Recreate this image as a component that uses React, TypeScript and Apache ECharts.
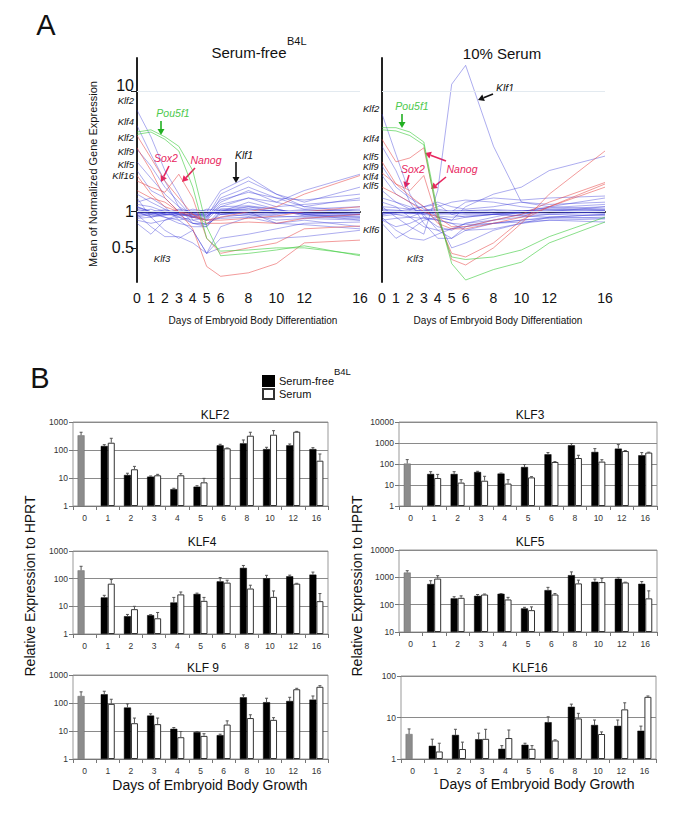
import React, { useEffect, useRef } from 'react';
import * as echarts from 'echarts';

const FONT = '"Liberation Sans", Arial, sans-serif';

// ---------- Panel A: line charts ----------
const DAYS = [0, 1, 2, 3, 4, 5, 6, 8, 10, 12, 16];
const LINE_Y_TICKS = [0.5, 1, 10];
const LINE_Y_MIN = 0.26;
const LINE_Y_MAX = 19;

const serumFreeBlue: number[][] = [
  [7.0, 4.2, 2.2, 1.4, 0.85, 0.78, 1.05, 1.1, 1.0, 0.98, 0.95],
  [5.2, 3.0, 1.8, 1.1, 0.8, 0.75, 1.0, 1.2, 1.05, 0.95, 0.9],
  [3.3, 2.4, 1.6, 1.2, 0.9, 0.85, 1.3, 1.6, 1.3, 1.1, 1.3],
  [2.6, 1.9, 1.4, 1.1, 0.95, 0.9, 1.4, 1.8, 1.4, 1.2, 1.6],
  [2.2, 1.5, 1.3, 1.0, 0.9, 0.9, 1.2, 1.5, 1.2, 1.05, 1.1],
  [1.0, 0.95, 0.9, 0.85, 0.9, 1.0, 1.5, 1.95, 1.4, 1.1, 1.0],
  [0.95, 0.75, 0.62, 0.62, 0.55, 0.45, 0.5, 0.55, 0.6, 0.62, 0.7],
  [1.3, 0.9, 0.7, 0.6, 0.7, 0.45, 0.75, 0.9, 0.8, 0.85, 0.75],
  [1.1, 1.0, 0.95, 0.92, 0.95, 0.95, 1.0, 1.05, 1.0, 0.98, 1.0],
  [0.95, 1.0, 1.02, 1.0, 0.97, 0.98, 0.96, 0.98, 1.0, 0.97, 0.95],
  [1.05, 0.98, 0.97, 1.05, 1.0, 0.92, 1.05, 1.02, 0.96, 1.0, 1.05],
  [0.9, 0.95, 1.0, 0.98, 1.02, 1.0, 0.98, 0.95, 0.98, 1.02, 0.98],
  [1.0, 1.05, 0.95, 0.96, 0.93, 0.97, 1.02, 1.0, 1.03, 0.95, 0.92],
  [0.97, 0.92, 0.98, 1.03, 0.98, 1.03, 0.95, 0.92, 0.95, 1.0, 1.02],
  [1.08, 1.0, 1.04, 0.94, 0.96, 0.92, 1.1, 1.12, 1.05, 0.92, 0.9],
  [0.92, 0.97, 0.93, 0.98, 1.05, 1.0, 1.0, 0.97, 0.92, 0.9, 0.88],
  [1.15, 1.1, 1.0, 0.9, 0.85, 0.88, 1.15, 1.3, 1.1, 1.15, 1.25],
  [0.85, 0.8, 0.85, 0.9, 0.8, 0.8, 0.9, 0.95, 0.85, 0.88, 0.85],
  [1.2, 1.3, 1.1, 0.85, 0.7, 0.45, 0.6, 0.65, 0.72, 0.8, 0.82],
  [1.0, 0.9, 0.95, 0.98, 0.9, 0.85, 1.1, 1.3, 1.2, 1.5, 2.05],
  [0.8, 0.65, 0.85, 0.95, 0.8, 0.78, 0.95, 1.0, 0.8, 0.78, 0.72],
  [1.4, 1.2, 1.05, 0.95, 0.9, 0.95, 1.25, 1.45, 1.3, 1.25, 1.4],
  [0.98, 1.0, 0.97, 1.0, 1.0, 1.0, 0.95, 1.0, 0.98, 0.96, 0.97],
  [1.02, 0.96, 1.0, 0.97, 0.95, 1.05, 1.02, 1.06, 1.0, 1.04, 1.0],
  [0.88, 0.9, 0.95, 0.95, 0.92, 0.85, 0.88, 0.9, 0.9, 0.92, 0.95],
  [1.1, 1.0, 0.9, 0.8, 0.75, 0.75, 1.0, 1.1, 1.05, 0.95, 0.85],
];
const serumFreeRed: number[][] = [
  [4.3, 2.8, 1.8, 1.3, 0.95, 0.8, 0.8, 0.82, 0.8, 0.88, 0.95],
  [3.4, 2.2, 1.3, 1.0, 0.72, 0.35, 0.29, 0.31, 0.37, 0.55, 0.58],
  [1.8, 1.6, 1.45, 2.05, 1.3, 0.6, 0.45, 0.5, 0.55, 0.72, 0.76],
  [1.5, 1.3, 1.2, 1.0, 0.9, 0.85, 0.9, 1.0, 1.1, 1.4, 2.0],
  [2.0, 1.4, 1.1, 1.0, 0.95, 0.85, 0.85, 0.88, 0.92, 1.0, 1.1],
];
const serumFreeGreen: number[][] = [
  [4.6, 4.8, 4.2, 3.5, 2.2, 0.75, 0.43, 0.45, 0.48, 0.52, 0.43],
  [4.4, 4.6, 4.0, 3.2, 1.6, 0.6, 0.47, 0.48, 0.5, 0.5, 0.44],
];
const serumBlue: number[][] = [
  [1.1, 0.9, 0.75, 0.65, 1.5, 11.5, 16.5, 3.5, 1.2, 1.1, 1.05],
  [6.5, 3.0, 1.4, 0.9, 0.75, 0.7, 0.8, 0.85, 0.9, 0.95, 1.0],
  [3.5, 2.2, 1.2, 0.8, 0.6, 0.6, 0.75, 0.85, 0.95, 1.0, 1.1],
  [2.4, 1.6, 1.3, 1.1, 0.9, 0.85, 1.1, 1.4, 1.6, 2.2, 2.9],
  [2.0, 1.4, 1.2, 1.05, 1.0, 1.0, 1.2, 1.3, 1.25, 1.3, 1.35],
  [0.9, 0.7, 0.6, 0.58, 0.65, 0.72, 0.75, 0.8, 0.85, 0.9, 0.95],
  [0.8, 0.6, 0.7, 0.85, 0.9, 0.85, 0.9, 0.95, 0.92, 0.9, 0.88],
  [1.3, 1.2, 1.1, 0.95, 0.7, 0.6, 0.7, 0.8, 0.85, 0.88, 0.9],
  [1.0, 1.02, 0.98, 1.0, 1.02, 0.98, 0.97, 1.0, 1.02, 1.0, 0.98],
  [0.98, 0.97, 1.0, 1.03, 0.97, 0.95, 1.0, 1.03, 0.98, 0.97, 1.02],
  [1.03, 1.0, 0.96, 0.98, 1.0, 1.02, 1.03, 0.98, 0.96, 1.02, 1.05],
  [0.95, 0.98, 1.02, 0.97, 0.95, 0.97, 0.95, 0.96, 1.0, 1.05, 1.1],
  [1.05, 1.03, 1.0, 1.02, 1.05, 1.0, 0.98, 0.95, 0.93, 0.95, 0.93],
  [0.92, 0.95, 0.97, 0.95, 0.92, 0.9, 0.92, 0.95, 0.97, 1.0, 1.0],
  [1.1, 1.08, 1.05, 1.1, 1.2, 1.1, 1.05, 1.1, 1.2, 1.15, 1.2],
  [0.85, 0.88, 0.9, 0.88, 0.85, 0.8, 0.78, 0.8, 0.82, 0.85, 0.87],
  [1.2, 1.1, 0.9, 0.75, 0.7, 0.72, 0.8, 0.9, 1.0, 1.1, 1.3],
  [0.85, 0.75, 0.8, 0.9, 0.85, 0.8, 0.7, 0.72, 0.8, 0.85, 0.82],
  [1.0, 0.95, 0.9, 1.0, 1.1, 1.2, 1.25, 1.2, 1.1, 1.05, 1.02],
  [0.95, 1.0, 1.05, 1.1, 1.15, 0.95, 0.9, 0.95, 1.0, 1.08, 1.15],
  [1.5, 1.2, 1.05, 1.0, 0.85, 0.5, 0.55, 0.7, 0.8, 0.9, 0.95],
  [1.0, 1.0, 0.98, 0.96, 0.98, 1.0, 1.02, 1.04, 1.02, 1.0, 0.97],
  [0.97, 0.99, 1.01, 0.99, 1.01, 0.99, 0.98, 0.99, 1.01, 1.03, 1.03],
];
const serumRed: number[][] = [
  [4.0, 2.6, 2.8, 3.4, 0.95, 0.4, 0.36, 0.5, 0.8, 1.4, 3.2],
  [2.1, 1.7, 1.5, 2.0, 0.85, 0.45, 0.42, 0.55, 0.85, 1.1, 1.7],
  [2.6, 1.7, 1.35, 1.1, 0.8, 0.72, 0.72, 0.8, 0.9, 1.1, 1.6],
  [1.6, 1.4, 1.2, 1.0, 0.9, 0.75, 0.75, 0.85, 0.95, 1.2, 1.75],
];
const serumGreen: number[][] = [
  [5.0, 5.0, 4.6, 3.8, 1.0, 0.37, 0.27, 0.33, 0.38, 0.55, 0.82],
  [4.8, 4.7, 4.3, 3.6, 0.9, 0.42, 0.4, 0.42, 0.48, 0.62, 0.9],
];

// ---------- Panel B: bar charts ----------
const BAR_DAYS = ['0', '1', '2', '3', '4', '5', '6', '8', '10', '12', '16'];

const klf2Free = [335, 139, 12.8, 11.2, 4, 4.9, 147, 173, 108, 147, 108];
const klf2FreeUpper = [430, 155, 14.8, 11.8, 4.3, 5.3, 160, 228, 125, 164, 121];
const klf2Serum = [null, 182, 20.5, 12.5, 12.5, 7, 115, 324, 352, 450, 41.5];
const klf2SerumUpper = [null, 262, 26, 13.5, 14.3, 9.7, 118, 430, 490, 461, 72];

const klf3Free = [105, 33.5, 33.5, 41.5, 35, 72, 290, 780, 375, 540, 260];
const klf3FreeUpper = [162, 43, 43, 45, 37, 94, 350, 940, 540, 840, 350];
const klf3Serum = [null, 21.5, 13, 16, 11.7, 23, 125, 193, 130, 415, 350];
const klf3SerumUpper = [null, 32, 18, 26, 18, 25, 130, 260, 160, 440, 365];

const klf4Free = [200, 21, 4.4, 4.8, 13.8, 28, 80, 245, 103, 122, 140];
const klf4FreeUpper = [280, 25, 5.1, 5.0, 21, 30, 110, 300, 132, 134, 173];
const klf4Serum = [null, 66, 7.9, 3.7, 27, 15.8, 72, 44, 22, 66, 15.4];
const klf4SerumUpper = [null, 93, 10, 6, 33, 21, 88, 58, 36, 68, 29];

const klf5Free = [1500, 570, 170, 210, 250, 73, 340, 1200, 690, 890, 580];
const klf5FreeUpper = [1750, 750, 195, 235, 255, 80, 430, 1580, 862, 990, 700];
const klf5Serum = [null, 900, 178, 235, 155, 63, 235, 600, 670, 650, 170];
const klf5SerumUpper = [null, 1150, 210, 245, 185, 83, 255, 790, 910, 665, 320];

const klf9Free = [178, 205, 69, 35.6, 12, 9.1, 7.1, 160, 107, 118, 132];
const klf9FreeUpper = [250, 263, 93, 41, 13.3, 9.6, 7.7, 195, 148, 160, 178];
const klf9Serum = [null, 93, 19, 17.6, 6, 6.7, 17, 29, 25, 310, 380];
const klf9SerumUpper = [null, 136, 29, 29, 9.6, 8, 23, 38, 30, 335, 415];

const klf16Free = [4, 2.08, 3.8, 3.0, 1.76, 2.2, 7.7, 18.1, 6.6, 6.3, 4.8];
const klf16FreeUpper = [5.3, 3.0, 5.2, 4.2, 2.1, 2.4, 10.4, 21, 8.7, 8.7, 6.2];
const klf16Serum = [null, 1.52, 1.74, 3.06, 3.2, 1.76, 2.8, 9.5, 4, 15.7, 31.5];
const klf16SerumUpper = [null, 2.4, 2.55, 5.2, 5.0, 2.1, 2.9, 12.6, 4.5, 22.6, 33];

const PANELS = [
  { title: 'KLF2', free: klf2Free, freeUp: klf2FreeUpper, serum: klf2Serum, serumUp: klf2SerumUpper, min: 1, max: 1000 },
  { title: 'KLF3', free: klf3Free, freeUp: klf3FreeUpper, serum: klf3Serum, serumUp: klf3SerumUpper, min: 1, max: 10000 },
  { title: 'KLF4', free: klf4Free, freeUp: klf4FreeUpper, serum: klf4Serum, serumUp: klf4SerumUpper, min: 1, max: 1000 },
  { title: 'KLF5', free: klf5Free, freeUp: klf5FreeUpper, serum: klf5Serum, serumUp: klf5SerumUpper, min: 10, max: 10000 },
  { title: 'KLF 9', free: klf9Free, freeUp: klf9FreeUpper, serum: klf9Serum, serumUp: klf9SerumUpper, min: 1, max: 1000 },
  { title: 'KLF16', free: klf16Free, freeUp: klf16FreeUpper, serum: klf16Serum, serumUp: klf16SerumUpper, min: 1, max: 100 },
];

const PANEL_LAYOUT = [
  { left: 73, top: 422, width: 255, height: 84, tx: 215, ty: 415 },
  { left: 399, top: 422, width: 258, height: 84, tx: 530, ty: 415 },
  { left: 73, top: 551, width: 255, height: 83, tx: 202, ty: 542 },
  { left: 399, top: 550, width: 258, height: 82, tx: 530, ty: 542 },
  { left: 73, top: 675, width: 255, height: 84, tx: 203, ty: 668 },
  { left: 401, top: 676, width: 255, height: 83, tx: 530, ty: 668 },
];

const L = (v: number) => Math.log10(v);

function arrow(x1: number, y1: number, x2: number, y2: number, color: string) {
  const ang = Math.atan2(y2 - y1, x2 - x1);
  const hl = 6;
  const hw = 3.5;
  const bx = x2 - hl * Math.cos(ang);
  const by = y2 - hl * Math.sin(ang);
  const px = -Math.sin(ang) * hw;
  const py = Math.cos(ang) * hw;
  return [
    { type: 'line', shape: { x1, y1, x2: bx, y2: by }, style: { stroke: color, lineWidth: 1.6 } },
    { type: 'polygon', shape: { points: [[x2, y2], [bx + px, by + py], [bx - px, by - py]] }, style: { fill: color } },
  ];
}

function txt(text: string, x: number, y: number, size: number, opts: any = {}) {
  return {
    type: 'text',
    x,
    y,
    rotation: opts.rotation || 0,
    style: {
      text,
      fill: opts.color || '#111',
      textAlign: opts.align || 'center',
      textVerticalAlign: 'middle',
      fontSize: size,
      fontFamily: FONT,
      fontStyle: opts.italic ? 'italic' : 'normal',
    },
  };
}

const errRender = (offset: number) => (params: any, api: any) => {
  const c = api.value(0);
  const top = api.coord([c, api.value(1)]);
  const up = api.coord([c, api.value(2)]);
  const x = top[0] + offset;
  return {
    type: 'group',
    children: [
      { type: 'line', shape: { x1: x, y1: top[1], x2: x, y2: up[1] }, style: { stroke: '#555', lineWidth: 1 } },
      { type: 'line', shape: { x1: x - 1.5, y1: up[1], x2: x + 1.5, y2: up[1] }, style: { stroke: '#555', lineWidth: 1 } },
    ],
  };
};

function buildOption() {
  const grid: any[] = [
    { left: 137, top: 58, width: 223, height: 224, show: false },
    { left: 382, top: 58, width: 223, height: 224, show: false },
  ];
  const xAxis: any[] = [];
  const yAxis: any[] = [];
  const series: any[] = [];

  [0, 1].forEach((gi) => {
    xAxis.push({
      gridIndex: gi,
      type: 'value',
      min: 0,
      max: 16,
      axisLine: { show: true, lineStyle: { color: '#222', width: 2 } },
      axisTick: { show: false },
      splitLine: { show: false },
      axisLabel: { customValues: DAYS, fontSize: 14, color: '#111', margin: 9, fontFamily: FONT },
    });
    yAxis.push({
      gridIndex: gi,
      type: 'value',
      min: L(LINE_Y_MIN),
      max: L(LINE_Y_MAX),
      axisLine: { show: true, lineStyle: { color: '#222', width: 2 } },
      axisTick: gi === 0 ? { show: true, customValues: LINE_Y_TICKS.map(L), length: 6, lineStyle: { color: '#222' } } : { show: false },
      axisLabel: gi === 0
        ? {
            show: true,
            customValues: LINE_Y_TICKS.map(L),
            fontSize: 16,
            color: '#111',
            margin: 3,
            fontFamily: FONT,
            formatter: (v: number) => {
              const r = Math.pow(10, v);
              if (r >= 5) return '{up|' + String(Math.round(r)) + '}';
              return r >= 1 ? String(Math.round(r)) : r.toFixed(1);
            },
            rich: { up: { fontSize: 16, color: '#111', fontFamily: FONT, padding: [0, 0, 12, 0] } },
          }
        : { show: false },
      splitLine: { show: false },
    });
  });

  const addLines = (gi: number, sets: number[][], color: string, opacity: number, tag: string) => {
    sets.forEach((vals, k) => {
      const s: any = {
        name: `${tag}${gi}-${k}`,
        type: 'line',
        xAxisIndex: gi,
        yAxisIndex: gi,
        data: DAYS.map((d, j) => [d, L(vals[j])]),
        symbol: 'none',
        silent: true,
        lineStyle: { color, width: 1, opacity },
      };
      if (k === 0 && tag === 'b') {
        s.markLine = {
          silent: true,
          symbol: 'none',
          label: { show: false },
          lineStyle: { color: '#e3eaf0', type: 'solid', width: 1 },
          data: [{ yAxis: L(1) }, { yAxis: L(10) }],
        };
      }
      series.push(s);
    });
  };
  addLines(0, serumFreeBlue, '#3c3cd8', 0.42, 'b');
  addLines(0, serumFreeRed, '#e84848', 0.55, 'r');
  addLines(0, serumFreeGreen, '#3ccc3c', 0.6, 'g');
  addLines(1, serumBlue, '#3c3cd8', 0.42, 'b');
  addLines(1, serumRed, '#e84848', 0.55, 'r');
  addLines(1, serumGreen, '#3ccc3c', 0.6, 'g');

  PANELS.forEach((p, i) => {
    const gi = i + 2;
    const lay = PANEL_LAYOUT[i];
    grid.push({ left: lay.left, top: lay.top, width: lay.width, height: lay.height, show: true, borderColor: '#999', borderWidth: 1 });
    xAxis.push({
      gridIndex: gi,
      type: 'category',
      data: BAR_DAYS,
      axisLine: { show: true, lineStyle: { color: '#777' } },
      axisTick: { show: true, length: 4, lineStyle: { color: '#777' } },
      axisLabel: { fontSize: 8.5, color: '#333', margin: 7, fontFamily: FONT },
    });
    yAxis.push({
      gridIndex: gi,
      type: 'log',
      logBase: 10,
      min: p.min,
      max: p.max,
      startValue: p.min,
      axisLine: { show: false },
      axisTick: { show: true, length: 4, lineStyle: { color: '#777' } },
      axisLabel: { fontSize: 8.5, color: '#333', margin: 5, fontFamily: FONT, formatter: (v: number) => String(Math.round(v)) },
      splitLine: { show: true, lineStyle: { color: '#8a8a8a', width: 1 } },
    });
    series.push({
      name: 'Serum-free',
      type: 'bar',
      xAxisIndex: gi,
      yAxisIndex: gi,
      barWidth: 7,
      barGap: '0%',
      clip: true,
      itemStyle: { color: '#000', borderColor: '#000', borderWidth: 0.5 },
      data: p.free.map((v, j) => (j === 0 ? { value: v, itemStyle: { color: '#8c8c8c', borderColor: '#6a6a6a' } } : v)),
    });
    series.push({
      name: 'Serum',
      type: 'bar',
      xAxisIndex: gi,
      yAxisIndex: gi,
      barWidth: 7,
      barGap: '0%',
      clip: true,
      itemStyle: { color: '#fff', borderColor: '#333', borderWidth: 1 },
      data: p.serum.map((v) => (v == null ? '-' : v)),
    });
    series.push({
      name: 'errFree' + i,
      type: 'custom',
      xAxisIndex: gi,
      yAxisIndex: gi,
      silent: true,
      encode: { x: 0, y: [1, 2] },
      renderItem: errRender(-3.5),
      data: p.free.map((v, j) => [j, v, p.freeUp[j]]),
      z: 3,
    });
    series.push({
      name: 'errSerum' + i,
      type: 'custom',
      xAxisIndex: gi,
      yAxisIndex: gi,
      silent: true,
      encode: { x: 0, y: [1, 2] },
      renderItem: errRender(3.5),
      data: p.serum.map((v, j) => [j, v, p.serumUp[j]]).filter((d) => d[1] != null),
      z: 3,
    });
  });

  const red = '#e8265e';
  const green = '#22b022';
  const geneSize = 9.5;
  const graphic: any[] = [
    txt('A', 46, 25, 29),
    txt('Serum-free', 249, 52, 15),
    txt('B4L', 287, 41, 11, { align: 'left' }),
    txt('10% Serum', 502, 53, 15),
    txt('Mean of Normalized Gene Expression', 93, 174, 11, { rotation: Math.PI / 2 }),
    txt('Days of Embryoid Body Differentiation', 253, 320, 10),
    txt('Days of Embryoid Body Differentiation', 498, 320, 10),
    // left gene labels
    txt('Klf2', 134, 100, geneSize, { align: 'right', italic: true }),
    txt('Klf4', 134, 121, geneSize, { align: 'right', italic: true }),
    txt('Klf2', 134, 137, geneSize, { align: 'right', italic: true }),
    txt('Klf9', 134, 151, geneSize, { align: 'right', italic: true }),
    txt('Klf5', 134, 164, geneSize, { align: 'right', italic: true }),
    txt('Klf16', 134, 175, geneSize, { align: 'right', italic: true }),
    txt('Klf3', 162, 258, geneSize, { italic: true }),
    // labels between the charts
    txt('Klf2', 363, 108, geneSize, { align: 'left', italic: true }),
    txt('Klf4', 363, 138, geneSize, { align: 'left', italic: true }),
    txt('Klf5', 363, 157, 9, { align: 'left', italic: true }),
    txt('Klf9', 363, 167, 9, { align: 'left', italic: true }),
    txt('Klf4', 363, 177, 9, { align: 'left', italic: true }),
    txt('Klf5', 363, 186, 9, { align: 'left', italic: true }),
    txt('Klf6', 363, 229, geneSize, { align: 'left', italic: true }),
    // left annotations
    txt('Pou5f1', 173, 113, 10.5, { italic: true, color: '#4cc94c' }),
    ...arrow(161, 121, 161, 135, green),
    txt('Sox2', 166, 158, 10.5, { italic: true, color: red }),
    ...arrow(169, 166, 161, 182, red),
    txt('Nanog', 206, 160, 10.5, { italic: true, color: red }),
    ...arrow(195, 168, 182, 182, red),
    txt('Klf1', 244, 155, 10.5, { italic: true }),
    ...arrow(236, 162, 236, 183, '#111'),
    // right annotations
    txt('Klf1', 505, 88, 10.5, { italic: true }),
    ...arrow(493, 94, 478, 100, '#111'),
    txt('Pou5f1', 412, 106, 10.5, { italic: true, color: '#4cc94c' }),
    ...arrow(402, 114, 402, 128, green),
    txt('Sox2', 413, 169, 10.5, { italic: true, color: red }),
    ...arrow(409, 175, 405, 188, red),
    txt('Nanog', 462, 169, 10.5, { italic: true, color: red }),
    ...arrow(446, 161, 425, 153, red),
    ...arrow(446, 177, 431, 189, red),
    txt('Klf3', 415, 258, geneSize, { italic: true }),
    // panel B
    txt('B', 40, 378, 29),
    txt('B4L', 334, 371, 9.5, { align: 'left' }),
    txt('Relative Expression to HPRT', 30, 586, 14, { rotation: Math.PI / 2 }),
    txt('Relative Expression to HPRT', 357, 586, 14, { rotation: Math.PI / 2 }),
    txt('Days of Embryoid Body Growth', 210, 785, 14),
    txt('Days of Embryoid Body Growth', 537, 784, 14),
  ];
  PANELS.forEach((p, i) => {
    graphic.push(txt(p.title, PANEL_LAYOUT[i].tx, PANEL_LAYOUT[i].ty, 12));
  });

  return {
    animation: false,
    backgroundColor: '#fff',
    textStyle: { fontFamily: FONT },
    legend: {
      data: ['Serum-free', 'Serum'],
      orient: 'vertical',
      left: 262,
      top: 375,
      padding: 0,
      itemWidth: 11,
      itemHeight: 10,
      itemGap: 1,
      selectedMode: false,
      icon: 'rect',
      textStyle: { fontSize: 11, lineHeight: 12, color: '#111', fontFamily: FONT },
    },
    grid,
    xAxis,
    yAxis,
    series,
    graphic,
  };
}

export default function App() {
  const ref = useRef<HTMLDivElement>(null);
  useEffect(() => {
    if (!ref.current) return;
    const chart = echarts.init(ref.current, undefined, { renderer: 'svg' });
    chart.setOption(buildOption() as any);
    return () => chart.dispose();
  }, []);
  return <div ref={ref} style={{ position: 'absolute', left: 0, top: 0, width: 685, height: 821 }} />;
}
